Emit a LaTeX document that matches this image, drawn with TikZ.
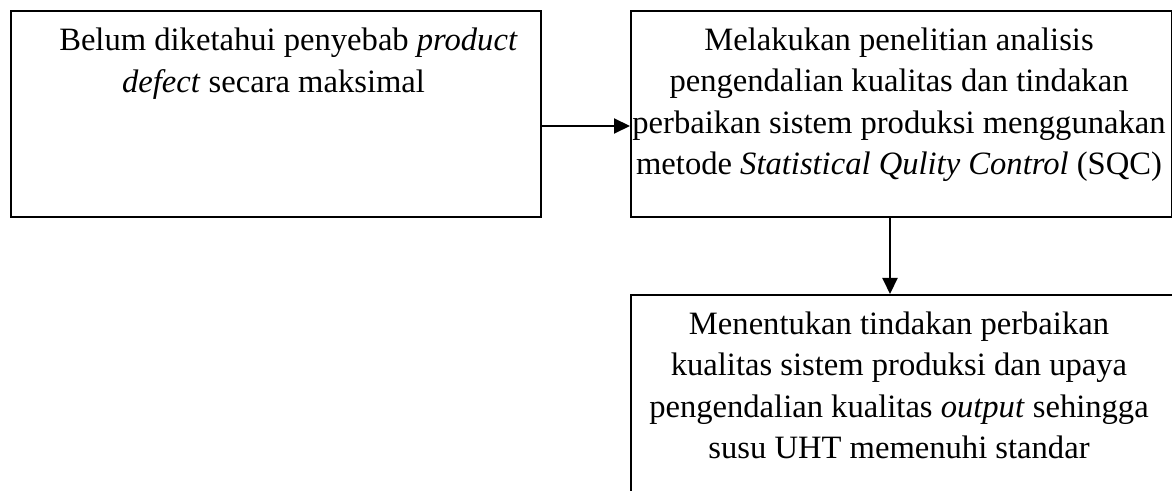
\documentclass[tikz,border=0pt]{standalone}
\usepackage{fontspec}
\setmainfont{Liberation Serif}
\usetikzlibrary{arrows.meta}
\begin{document}
\begin{tikzpicture}[x=0.5pt,y=-0.5pt,
  box/.style={draw,line width=1pt,inner sep=0pt,anchor=north west},
  txt/.style={align=center,inner sep=0pt,anchor=north,font=\fontsize{16.3}{20.75}\selectfont},
  conn/.style={line width=1pt,-{Triangle[length=8pt,width=7.5pt]}}]
\useasboundingbox (0,0) rectangle (1172,491);
\clip (0,0) rectangle (1172,491);
% boxes
\node[box,minimum width=265pt,minimum height=103pt] (b1) at (10,10.5) {};
\node[box,minimum width=270.5pt,minimum height=103pt] (b2) at (630,10.5) {};
\node[box,minimum width=271pt,minimum height=140pt] (b3) at (630,294) {};
% texts
\node[txt] (t1) at (273.5,27.7) {\hspace*{15pt}Belum diketahui penyebab \textit{product}\\ \textit{defect} secara maksimal};
\node[txt] (t2) at (899,27.2) {Melakukan penelitian analisis\\ pengendalian kualitas dan tindakan\\ perbaikan sistem produksi menggunakan\\ metode \textit{Statistical Qulity Control} (SQC)};
\node[txt] (t3) at (899,311.2) {Menentukan tindakan perbaikan\\ kualitas sistem produksi dan upaya\\ pengendalian kualitas \textit{output} sehingga\\ susu UHT memenuhi standar};
% connectors
\draw[conn] ([yshift=-5.75pt]b1.east) -- ([yshift=-5.75pt]b1.east -| b2.west);
\draw[conn] ([xshift=-5.75pt]b2.south) -- ([xshift=-5.75pt]b2.south |- b3.north);
\end{tikzpicture}
\end{document}
